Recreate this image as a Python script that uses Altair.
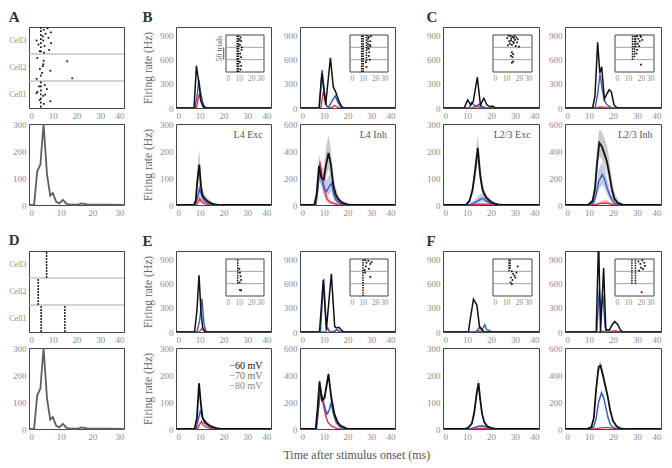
import altair as alt
import pandas as pd

FONT = "Liberation Serif"
LBL = "#8c8c8c"
FRAME = "#444444"
K_COL = "#111111"
B_COL = "#3a5bb5"
R_COL = "#e8334f"
K_BAND = "#a8a8a8"
B_BAND = "#9aa6dc"
R_BAND = "#f29aab"

WA, WB, WC, H = 95, 95, 96, 81

# ---------------- data ----------------
# Panel A / D population histogram (time ms, count)
HIST_T = [0, 1.6, 2.6, 3.6, 4.6, 5.7, 6.7, 7.5, 8.6, 9.6, 10.7, 11.7, 12.7, 14, 15.5, 16.5, 17.5, 18.5, 20, 25, 30]
HIST_V = [0, 0, 125, 150, 300, 112, 35, 44, 12, 6, 19, 6, 1, 1, 1, 6, 4, 1, 1, 1, 0]

# Panel A raster (spike time, row position; Cell1 0-1, Cell2 1-2, Cell3 2-3)
A_SPIKE_T = [5, 5, 5, 5, 5, 5, 5, 6.2, 7.8, 8.2, 9.3, 7, 6, 6.5, 8.5, 3.2, 4, 4.5, 6.3, 9.2, 5.8,
             3.5, 6.2, 5.8, 16.1, 9, 5, 3.2, 18.2, 5.5, 6, 4.6,
             5, 5, 5, 5, 5, 5, 5, 3.6, 3.2, 6.6, 7.5, 6, 9, 4.5, 6.3, 4.2, 6.8]
A_SPIKE_Y = [2.1, 2.25, 2.4, 2.55, 2.7, 2.85, 2.97, 2.9, 2.95, 2.6, 2.4, 2.75, 2.5, 2.3, 2.15, 2.5, 2.35, 2.1, 2.05, 2.8, 2.65,
             1.85, 1.75, 1.55, 1.73, 1.38, 1.2, 1.08, 1.1, 1.3, 1.62, 1.45,
             0.95, 0.8, 0.65, 0.5, 0.35, 0.2, 0.05, 0.6, 0.55, 0.85, 0.7, 0.45, 0.25, 0.3, 0.15, 0.8, 0.5]

# Panel D raster: every trial spikes at the same time -> columns
D_COL_T = [7.4, 3.9, 5.1, 15.1]
D_COL_Y0 = [2, 1, 0, 0]
D_COL_Y1 = [3, 2, 1, 1]

# Example neurons (t, rate) : K = -60 mV, B = -70 mV, R = -80 mV
B1T_K = [(0, 0), (7.6, 0), (8.6, 520), (9.6, 310), (10.5, 90), (11.5, 15), (12.5, 0), (40, 0)]
B1T_B = [(0, 0), (8, 0), (8.8, 130), (9.6, 350), (10.5, 170), (11.5, 45), (12.5, 0), (40, 0)]
B1T_R = [(0, 0), (8.6, 0), (9.8, 175), (10.6, 70), (11.5, 10), (12.2, 0), (40, 0)]

B2T_K = [(0, 0), (8, 0), (9.2, 430), (10.8, 40), (12.8, 620), (14, 260), (15, 200), (16.5, 75), (17.7, 12), (18.5, 0), (40, 0)]
B2T_B = [(0, 0), (8.2, 0), (9.3, 470), (10.3, 200), (11, 30), (12, 10), (13, 60), (14.8, 150), (16, 70), (17.2, 10), (18, 0), (40, 0)]
B2T_R = [(0, 0), (8.8, 0), (9.8, 200), (10.5, 130), (11.3, 20), (12.5, 0), (13.5, 10), (14.6, 30), (15.6, 15), (16.5, 0), (40, 0)]

C1T_K = [(0, 0), (8.8, 0), (10.3, 100), (11.6, 35), (12.6, 80), (14.3, 380), (15.6, 35), (17, 120), (18.3, 40), (19.6, 15), (20.7, 25), (21.8, 0), (40, 0)]
C1T_B = [(0, 0), (10.8, 0), (12, 70), (13.4, 20), (15.2, 48), (16.3, 20), (17.6, 5), (18.5, 0), (40, 0)]
C1T_R = [(0, 0), (12, 0), (13, 12), (14.5, 18), (16, 10), (17.5, 5), (18.5, 0), (40, 0)]

C2T_K = [(0, 0), (11.5, 0), (12.5, 150), (13.6, 810), (14.5, 430), (15.3, 510), (16.4, 110), (17.2, 160), (18.4, 225), (19.3, 200), (20.4, 40), (21.5, 5), (22.5, 0), (40, 0)]
C2T_B = [(0, 0), (12.5, 0), (13.6, 170), (14.6, 420), (15.5, 230), (16.5, 90), (17.5, 40), (18.5, 20), (19.5, 0), (40, 0)]
C2T_R = [(0, 0), (12, 0), (13, 8), (15, 12), (17, 8), (19, 5), (21, 0), (40, 0)]

E1T_K = [(0, 0), (7.8, 0), (8.8, 260), (9.7, 700), (10.5, 260), (11.2, 60), (12.3, 0), (40, 0)]
E1T_B = [(0, 0), (8.8, 0), (10, 150), (10.9, 410), (11.8, 100), (12.5, 20), (13.2, 0), (40, 0)]
E1T_R = [(0, 0), (9.8, 0), (11, 50), (12, 0), (40, 0)]

E2T_K = [(0, 0), (8.2, 0), (9.8, 640), (11.1, 30), (13.2, 718), (14.6, 70), (15.3, 50), (16.4, 57), (17.4, 25), (18.5, 0), (40, 0)]
E2T_B = [(0, 0), (8.6, 0), (10, 657), (11.1, 70), (12, 20), (13, 0), (14.5, 10), (15.3, 28), (16.5, 10), (17.5, 0), (40, 0)]
E2T_R = [(0, 0), (10.6, 0), (11.7, 50), (12.5, 0), (14.5, 0), (15.7, 30), (16.8, 0), (40, 0)]

F1T_K = [(0, 0), (10.6, 0), (11.3, 150), (12.7, 405), (14.1, 333), (15.2, 70), (16.3, 28), (17.2, 0), (40, 0)]
F1T_B = [(0, 0), (13.8, 0), (15.2, 60), (16.2, 25), (17.4, 90), (18.2, 28), (19.3, 20), (20.2, 0), (40, 0)]
F1T_R = [(0, 0), (12.5, 0), (13.5, 8), (15, 12), (16.5, 6), (17.5, 0), (40, 0)]

F2T_K = [(0, 0), (13, 0), (14, 1150), (14.8, 0), (16.1, 790), (17, 30), (18.5, 25), (19.5, 80), (20.7, 130), (22, 90), (23, 28), (24, 0), (40, 0)]
F2T_B = [(0, 0), (13.2, 0), (14.3, 530), (15, 250), (15.8, 460), (16.7, 60), (17.5, 0), (40, 0)]
F2T_R = [(0, 0), (13.5, 0), (15, 8), (17, 10), (19, 8), (21, 15), (22.5, 5), (24, 0), (40, 0)]

# Population averages (t, mean, band low, band high)
B1B_K = [(0, 0, 0, 0), (7.5, 0, 0, 0), (8.3, 15, 5, 30), (9, 90, 50, 140), (9.8, 150, 100, 205), (10.5, 70, 45, 110), (11.2, 35, 22, 55), (12, 25, 15, 40), (13, 16, 10, 28), (14, 10, 5, 20), (15, 5, 2, 12), (16.5, 2, 0, 6), (18, 0, 0, 2), (40, 0, 0, 0)]
B1B_B = [(0, 0, 0, 0), (8, 0, 0, 0), (9, 25, 12, 40), (9.9, 60, 38, 85), (10.6, 42, 28, 60), (11.3, 25, 15, 38), (12, 15, 8, 25), (13, 9, 4, 16), (14, 5, 2, 10), (15.5, 2, 0, 5), (17, 0, 0, 0), (40, 0, 0, 0)]
B1B_R = [(0, 0, 0, 0), (8.5, 0, 0, 0), (9.3, 10, 4, 18), (10, 24, 12, 38), (10.8, 13, 6, 22), (11.6, 7, 3, 12), (12.5, 4, 1, 7), (14, 1, 0, 3), (15, 0, 0, 0), (40, 0, 0, 0)]

B2B_K = [(0, 0, 0, 0), (6, 0, 0, 0), (7, 80, 30, 150), (8, 290, 200, 380), (9, 200, 140, 270), (10, 190, 130, 280), (11, 300, 200, 430), (12, 385, 270, 520), (13, 300, 200, 420), (14, 150, 90, 230), (15, 80, 40, 130), (16, 45, 20, 80), (17, 28, 10, 50), (18, 15, 5, 30), (20, 5, 0, 12), (22, 0, 0, 2), (40, 0, 0, 0)]
B2B_B = [(0, 0, 0, 0), (6.5, 0, 0, 0), (7.5, 120, 60, 200), (8.3, 270, 180, 340), (9.3, 180, 110, 270), (10.3, 120, 70, 200), (11.2, 100, 60, 180), (12.2, 135, 80, 220), (13.3, 160, 100, 250), (14.2, 80, 40, 150), (15.2, 35, 15, 70), (16.5, 15, 5, 35), (18, 5, 0, 12), (19.5, 0, 0, 2), (40, 0, 0, 0)]
B2B_R = [(0, 0, 0, 0), (6.8, 0, 0, 0), (7.6, 150, 80, 230), (8.4, 320, 230, 340), (9.4, 200, 120, 270), (10.3, 110, 60, 170), (11.3, 45, 20, 80), (12.5, 22, 8, 45), (13.5, 15, 5, 30), (14.8, 8, 2, 18), (16, 2, 0, 6), (17.5, 0, 0, 0), (40, 0, 0, 0)]

C1B_K = [(0, 0, 0, 0), (9.5, 0, 0, 0), (11, 15, 8, 25), (12.3, 55, 35, 80), (13.5, 135, 95, 180), (14.5, 212, 160, 262), (15.5, 110, 80, 150), (16.5, 55, 38, 80), (17.9, 28, 18, 42), (19.9, 12, 6, 20), (21.5, 5, 2, 10), (23, 2, 0, 5), (25, 0, 0, 1), (40, 0, 0, 0)]
C1B_B = [(0, 0, 0, 0), (10.5, 0, 0, 0), (12, 4, 1, 10), (13.5, 10, 4, 22), (15, 18, 8, 35), (16.5, 25, 12, 45), (18, 15, 7, 28), (19.5, 7, 3, 14), (21, 3, 0, 7), (23, 0, 0, 2), (40, 0, 0, 0)]
C1B_R = [(0, 0, 0, 0), (11, 0, 0, 0), (13, 2, 0, 5), (15, 3, 0, 7), (17, 3, 0, 6), (19, 2, 0, 4), (21, 1, 0, 2), (23, 0, 0, 0), (40, 0, 0, 0)]

C2B_K = [(0, 0, 0, 0), (9.5, 0, 0, 0), (11.5, 30, 15, 55), (12.5, 120, 70, 190), (13.3, 300, 200, 420), (14.3, 460, 360, 560), (15.3, 435, 340, 545), (16.5, 375, 290, 490), (17.5, 320, 240, 440), (18.5, 225, 160, 340), (19.5, 120, 80, 200), (20.5, 50, 30, 100), (22, 15, 5, 40), (24, 3, 0, 10), (26, 0, 0, 2), (40, 0, 0, 0)]
C2B_B = [(0, 0, 0, 0), (10.5, 0, 0, 0), (12, 20, 8, 45), (13, 80, 40, 140), (14, 170, 110, 260), (15.5, 225, 150, 320), (16.5, 190, 125, 280), (17.5, 130, 80, 200), (18.5, 80, 45, 130), (19.5, 40, 20, 70), (21, 10, 3, 25), (23, 0, 0, 5), (40, 0, 0, 0)]
C2B_R = [(0, 0, 0, 0), (11, 0, 0, 0), (13, 5, 0, 15), (15, 12, 3, 30), (17, 15, 5, 40), (19, 8, 2, 25), (21, 2, 0, 8), (23, 0, 0, 0), (40, 0, 0, 0)]

E1B_K = [(0, 0, 0, 0), (7.8, 0, 0, 0), (8.8, 40, 30, 50), (9.7, 169, 150, 185), (10.5, 90, 80, 100), (11.2, 42, 36, 48), (12, 30, 26, 35), (13, 20, 17, 24), (14, 14, 11, 17), (15, 9, 7, 12), (16, 6, 4, 8), (17, 3, 2, 5), (19, 0, 0, 1), (40, 0, 0, 0)]
E1B_B = [(0, 0, 0, 0), (8.5, 0, 0, 0), (9.5, 40, 32, 48), (10.2, 66, 58, 75), (11, 45, 39, 52), (12, 22, 19, 26), (13, 15, 12, 18), (14, 9, 7, 11), (15, 5, 3, 7), (16, 3, 1, 4), (18, 0, 0, 0), (40, 0, 0, 0)]
E1B_R = [(0, 0, 0, 0), (9, 0, 0, 0), (10, 18, 14, 22), (10.7, 28, 23, 33), (11.5, 15, 12, 18), (12.5, 8, 6, 10), (14, 3, 2, 4), (16, 0, 0, 0), (40, 0, 0, 0)]

E2B_K = [(0, 0, 0, 0), (6.6, 0, 0, 0), (7.4, 150, 120, 180), (8.2, 352, 320, 380), (9.3, 213, 190, 240), (10.3, 230, 205, 255), (12, 407, 375, 440), (13.1, 242, 215, 270), (14.5, 110, 95, 125), (15.9, 48, 40, 56), (17.2, 24, 18, 30), (18.6, 12, 8, 16), (20, 0, 0, 2), (40, 0, 0, 0)]
E2B_B = [(0, 0, 0, 0), (6.8, 0, 0, 0), (7.7, 150, 120, 180), (8.6, 278, 250, 305), (10.3, 170, 150, 195), (11.3, 110, 95, 130), (12.2, 133, 115, 150), (13.1, 194, 165, 290), (14.1, 110, 95, 130), (15.2, 48, 40, 56), (16.5, 20, 15, 25), (18, 0, 0, 3), (40, 0, 0, 0)]
E2B_R = [(0, 0, 0, 0), (7, 0, 0, 0), (7.8, 150, 120, 180), (8.7, 290, 260, 320), (9.7, 194, 170, 215), (10.8, 97, 85, 110), (11.8, 48, 40, 55), (13.1, 24, 18, 30), (14.5, 12, 8, 16), (16, 0, 0, 2), (40, 0, 0, 0)]

F1B_K = [(0, 0, 0, 0), (9, 0, 0, 0), (10.5, 5, 3, 8), (12, 20, 15, 26), (13, 60, 50, 72), (14, 130, 115, 150), (14.8, 170, 150, 192), (15.5, 110, 98, 125), (16.3, 55, 48, 63), (17.2, 25, 20, 30), (18.5, 10, 7, 13), (20, 4, 2, 6), (22, 0, 0, 1), (40, 0, 0, 0)]
F1B_B = [(0, 0, 0, 0), (11, 0, 0, 0), (13, 5, 3, 8), (15, 10, 7, 14), (16.5, 12, 9, 16), (18, 8, 5, 11), (20, 3, 1, 5), (22, 0, 0, 1), (40, 0, 0, 0)]
F1B_R = [(0, 0, 0, 0), (12, 0, 0, 0), (15, 2, 1, 4), (17, 3, 1, 5), (19, 2, 0, 3), (21, 0, 0, 0), (40, 0, 0, 0)]

F2B_K = [(0, 0, 0, 0), (9, 0, 0, 0), (11, 15, 10, 22), (12, 80, 65, 95), (13, 300, 270, 330), (14, 460, 430, 490), (14.8, 470, 440, 505), (15.8, 400, 375, 430), (16.8, 320, 295, 345), (17.8, 240, 220, 260), (18.8, 140, 125, 155), (20, 60, 50, 70), (21.5, 20, 15, 26), (23, 5, 2, 8), (25, 0, 0, 1), (40, 0, 0, 0)]
F2B_B = [(0, 0, 0, 0), (10, 0, 0, 0), (12, 15, 10, 20), (13, 80, 68, 92), (14, 200, 180, 220), (15.2, 267, 245, 290), (16, 240, 220, 262), (17, 160, 145, 175), (18, 80, 70, 90), (19, 30, 24, 36), (20.5, 8, 5, 11), (22, 0, 0, 2), (40, 0, 0, 0)]
F2B_R = [(0, 0, 0, 0), (11, 0, 0, 0), (13, 3, 1, 5), (15, 8, 4, 12), (17, 12, 7, 17), (19, 8, 4, 12), (21, 3, 1, 5), (23, 0, 0, 0), (40, 0, 0, 0)]

# Inset rasters: columns (t, row0, row1) and single spikes (t, row); rows 2-3 = -60 mV
B1_IN_COLS = [(8.8, 0, 3), (9.9, 0, 3)]
B1_IN_DOTS = [(11.5, 2.8), (12, 2.5), (11, 2.2), (12.3, 1.8), (11.2, 1.5), (11.8, 1.2), (11, 0.8), (12, 0.5), (11.5, 0.2), (10.8, 2.6), (12.5, 2.0)]
B2_IN_COLS = [(9.3, 0, 3), (10.4, 0, 3), (13, 0.9, 3), (14.2, 1.8, 3)]
B2_IN_DOTS = [(15, 2.8), (16, 2.5), (15.5, 2.2), (14.8, 1.9), (15.2, 1.6), (16.5, 2.9), (14.8, 1.3), (12.5, 0.8), (13, 0.4), (15.6, 1.0), (16.2, 2.1)]
C1_IN_COLS = []
C1_IN_DOTS = [(12, 2.95), (13.5, 2.9), (15, 2.85), (16.5, 2.92), (18, 2.8), (14, 2.7), (11, 2.75), (17, 2.6), (19, 2.65), (12.5, 2.5), (15.5, 2.45), (13, 2.3), (16, 2.35), (18.5, 2.4), (14.5, 2.2), (17.5, 2.1), (11.5, 2.15), (20, 2.05), (14, 2.55), (16, 2.75), (14.5, 1.6), (15.5, 1.45), (13.8, 1.3), (15, 1.2), (15.5, 0.85), (14.5, 0.75)]
C2_IN_COLS = [(13.5, 1, 3), (15, 1.2, 3), (16, 2, 3)]
C2_IN_DOTS = [(17, 2.9), (18, 2.7), (19, 2.5), (17.5, 2.3), (20, 2.85), (21, 2.6), (18.5, 2.1), (19.5, 2.95), (17, 1.8), (16.5, 1.5), (20, 0.6)]
E1_IN_COLS = [(9.3, 1, 3)]
E1_IN_DOTS = [(11, 1.9), (11.5, 1.6), (12, 1.3), (10.5, 2.2), (11, 0.5), (12, 0.45), (10.8, 1.1)]
E2_IN_COLS = [(10.3, 0, 3)]
E2_IN_DOTS = [(12, 2.9), (13, 2.7), (14.5, 2.85), (16, 2.6), (17, 2.75), (12.5, 2.4), (15, 2.2), (11.5, 2.1), (16, 1.55), (12, 1.9)]
F1_IN_COLS = [(12.3, 2, 3), (13.2, 2.2, 3)]
F1_IN_DOTS = [(14.5, 2.0), (15.5, 1.8), (16.5, 1.65), (18, 1.9), (17.2, 1.5), (15, 1.3), (13.5, 1.1), (14.5, 0.95), (13.8, 1.5), (19, 2.4)]
F2_IN_COLS = [(13, 1, 3), (15.7, 1, 3)]
F2_IN_DOTS = [(18, 2.8), (19.5, 2.6), (21, 2.9), (22.5, 2.7), (20, 2.3), (23, 2.45), (18.5, 2.05), (21.5, 2.2), (20.5, 0.3)]

LEG_LABELS = ["\u221260 mV", "\u221270 mV", "\u221280 mV"]
LEG_Y = [232, 196, 160]
LEG_X = [22.5, 22.5, 22.5]
LEG_COLORS = ["#111111", "#6e6e6e", "#8a8a8a"]

X_TICKS = [0, 10, 20, 30, 40]
TOP_TICKS = [0, 300, 600, 900]


def letter_title(txt):
    return alt.TitleParams(txt, anchor="start", font=FONT, fontSize=15, fontWeight="bold",
                           color="#333333", offset=2)


def inset_layer(cols, dots, w, h, scalebar=False):
    x0, x1 = round(0.525 * w), round(0.93 * w)
    y0, y1 = round(0.1 * h), round(0.555 * h)
    xs = alt.Scale(domain=[0, 30], range=[x0, x1], nice=False, zero=False)
    ys = alt.Scale(domain=[0, 3], range=[y1, y0], nice=False, zero=False)
    xax = alt.Axis(values=[0, 10, 20, 30], orient="bottom", offset=y1 - h, title=None,
                   labelFontSize=7.5, labelPadding=2, labelOverlap=False)
    fdf = pd.DataFrame({"a": [0], "b": [30], "c": [0], "d": [3]})
    layers = [alt.Chart(fdf).mark_rect(fill="white", stroke=FRAME, strokeWidth=1).encode(
        x=alt.X("a:Q", scale=xs, axis=xax), x2="b:Q",
        y=alt.Y("c:Q", scale=ys, axis=None), y2="d:Q")]
    sdf = pd.DataFrame({"a": [0, 0], "b": [30, 30], "y": [1, 2]})
    layers.append(alt.Chart(sdf).mark_rule(color="#a0a0a0", strokeWidth=1).encode(
        x=alt.X("a:Q", scale=xs, axis=xax), x2="b:Q", y=alt.Y("y:Q", scale=ys, axis=None)))
    if cols:
        cdf = pd.DataFrame(cols, columns=["t", "y0", "y1"])
        layers.append(alt.Chart(cdf).mark_rule(color="#111111", strokeWidth=1.5, strokeDash=[1.5, 1]).encode(
            x=alt.X("t:Q", scale=xs, axis=xax), y=alt.Y("y0:Q", scale=ys, axis=None), y2="y1:Q"))
    ddf = pd.DataFrame(dots, columns=["t", "y"])
    layers.append(alt.Chart(ddf).mark_square(size=3, color="#111111", opacity=1).encode(
        x=alt.X("t:Q", scale=xs, axis=xax), y=alt.Y("y:Q", scale=ys, axis=None)))
    if scalebar:
        bdf = pd.DataFrame({"t": [-1.8], "y0": [1], "y1": [2]})
        layers.append(alt.Chart(bdf).mark_rule(color="#555555", strokeWidth=1).encode(
            x=alt.X("t:Q", scale=xs, axis=xax), y=alt.Y("y0:Q", scale=ys, axis=None), y2="y1:Q"))
        tdf = pd.DataFrame({"t": [-4.6], "y": [1.9], "s": ["50 trials"]})
        layers.append(alt.Chart(tdf).mark_text(font=FONT, fontSize=8, color="#666666", angle=270,
                                               align="center", baseline="middle").encode(
            x=alt.X("t:Q", scale=xs, axis=xax), y=alt.Y("y:Q", scale=ys, axis=None), text="s:N"))
    return alt.layer(*layers)


def rate_panel(series, ymax, yticks, w, h, ytitle=None, label=None, inset=None,
               banded=False, legend=False, letter=None):
    k, b, r = series
    xs = alt.Scale(domain=[0, 40], nice=False, zero=False)
    ys = alt.Scale(domain=[0, ymax], nice=False)
    xax = alt.Axis(values=X_TICKS, title=None)
    if ytitle:
        yax = alt.Axis(values=yticks, title=ytitle, titlePadding=6)
    else:
        yax = alt.Axis(values=yticks, title=None)
    layers = []
    if banded:
        for data, col, op in ((k, K_BAND, 0.6), (b, B_BAND, 0.6), (r, R_BAND, 0.6)):
            df = pd.DataFrame(data, columns=["t", "v", "lo", "hi"])
            layers.append(alt.Chart(df).mark_area(color=col, opacity=op, clip=True).encode(
                x=alt.X("t:Q", scale=xs, axis=xax),
                y=alt.Y("lo:Q", scale=ys, axis=yax), y2="hi:Q"))
    lw = 1.8 if banded else 1.5
    for data, col, sw in ((r, R_COL, 1.4), (b, B_COL, 1.4), (k, K_COL, lw)):
        df = pd.DataFrame([row[:2] for row in data], columns=["t", "v"])
        layers.append(alt.Chart(df).mark_line(color=col, strokeWidth=sw, clip=True).encode(
            x=alt.X("t:Q", scale=xs, axis=xax), y=alt.Y("v:Q", scale=ys, axis=yax)))
    if label:
        ldf = pd.DataFrame({"t": [36.5], "v": [ymax * 0.86], "s": [label]})
        layers.append(alt.Chart(ldf).mark_text(font=FONT, fontSize=10, color="#555555",
                                               align="right", baseline="middle").encode(
            x=alt.X("t:Q", scale=xs, axis=xax), y=alt.Y("v:Q", scale=ys, axis=yax), text="s:N"))
    if legend:
        gdf = pd.DataFrame({"t": LEG_X, "v": LEG_Y, "s": LEG_LABELS})
        layers.append(alt.Chart(gdf).mark_text(font=FONT, fontSize=10, align="left",
                                               baseline="middle").encode(
            x=alt.X("t:Q", scale=xs, axis=xax), y=alt.Y("v:Q", scale=ys, axis=yax), text="s:N",
            color=alt.Color("s:N", scale=alt.Scale(domain=LEG_LABELS, range=LEG_COLORS), legend=None)))
    main = alt.layer(*layers)
    if inset:
        cols, dots, bar = inset
        ch = alt.layer(main, inset_layer(cols, dots, w, h, bar)).resolve_scale(
            x="independent", y="independent")
    else:
        ch = main
    ch = ch.properties(width=w, height=h)
    if letter:
        ch = ch.properties(title=letter_title(letter))
    return ch


def cell_axis():
    return alt.Axis(values=[0.5, 1.5, 2.5], title=None, labelFontSize=8,
                    labelExpr="datum.value < 1 ? 'Cell1' : (datum.value < 2 ? 'Cell2' : 'Cell3')")


def raster_A(letter):
    xs = alt.Scale(domain=[0, 40], nice=False)
    ys = alt.Scale(domain=[0, 3], nice=False)
    sep = alt.Chart(pd.DataFrame({"y": [1, 2]})).mark_rule(color="#a8a8a8", strokeWidth=1.2).encode(
        y=alt.Y("y:Q", scale=ys, axis=cell_axis()))
    pts = alt.Chart(pd.DataFrame({"t": A_SPIKE_T, "y": A_SPIKE_Y})).mark_square(size=3, color="#111111", opacity=1).encode(
        x=alt.X("t:Q", scale=xs, axis=alt.Axis(values=X_TICKS, title=None)),
        y=alt.Y("y:Q", scale=ys, axis=cell_axis()))
    return alt.layer(sep, pts).properties(width=WA, height=H, title=letter_title(letter))


def raster_D(letter):
    xs = alt.Scale(domain=[0, 40], nice=False)
    ys = alt.Scale(domain=[0, 3], nice=False)
    sep = alt.Chart(pd.DataFrame({"y": [1, 2]})).mark_rule(color="#a8a8a8", strokeWidth=1.2).encode(
        y=alt.Y("y:Q", scale=ys, axis=cell_axis()))
    cols = alt.Chart(pd.DataFrame({"t": D_COL_T, "y0": D_COL_Y0, "y1": D_COL_Y1})).mark_rule(
        color="#111111", strokeWidth=1.4, strokeDash=[2, 1]).encode(
        x=alt.X("t:Q", scale=xs, axis=alt.Axis(values=X_TICKS, title=None)),
        y=alt.Y("y0:Q", scale=ys, axis=cell_axis()), y2="y1:Q")
    return alt.layer(sep, cols).properties(width=WA, height=H, title=letter_title(letter))


def hist_panel():
    return alt.Chart(pd.DataFrame({"t": HIST_T, "v": HIST_V})).mark_line(
        color="#5e5e5e", strokeWidth=1.8).encode(
        x=alt.X("t:Q", scale=alt.Scale(domain=[0, 30], nice=False),
                axis=alt.Axis(values=[0, 10, 20, 30], title=None)),
        y=alt.Y("v:Q", scale=alt.Scale(domain=[0, 300], nice=False),
                axis=alt.Axis(values=[0, 100, 200, 300], title=None))
    ).properties(width=WA, height=H)


def spacer(w, h):
    return alt.Chart(pd.DataFrame({"a": [0]})).mark_point(opacity=0).encode(
        x=alt.X("a:Q", axis=None), y=alt.Y("a:Q", axis=None)
    ).properties(width=w, height=h, view=alt.ViewBackground(stroke="transparent"))


GAPS = [52, 29, 48, 26]


def grid_row(panels, gap_w=1, row_h=1):
    out = []
    for i, p in enumerate(panels):
        out.append(p)
        if i < len(GAPS):
            out.append(spacer(gap_w if gap_w != "gap" else GAPS[i], row_h))
    return out


FR = "Firing rate (Hz)"

row1 = [raster_A("A"),
        rate_panel((B1T_K, B1T_B, B1T_R), 1000, TOP_TICKS, WB, H, ytitle=FR,
                   inset=(B1_IN_COLS, B1_IN_DOTS, True), letter="B"),
        rate_panel((B2T_K, B2T_B, B2T_R), 1000, TOP_TICKS, WB, H,
                   inset=(B2_IN_COLS, B2_IN_DOTS, False)),
        rate_panel((C1T_K, C1T_B, C1T_R), 1000, TOP_TICKS, WC, H,
                   inset=(C1_IN_COLS, C1_IN_DOTS, False), letter="C"),
        rate_panel((C2T_K, C2T_B, C2T_R), 1000, TOP_TICKS, WC, H,
                   inset=(C2_IN_COLS, C2_IN_DOTS, False))]
row2 = [hist_panel(),
        rate_panel((B1B_K, B1B_B, B1B_R), 300, [0, 100, 200, 300], WB, H, ytitle=FR,
                   label="L4 Exc", banded=True),
        rate_panel((B2B_K, B2B_B, B2B_R), 600, [0, 200, 400, 600], WB, H,
                   label="L4 Inh", banded=True),
        rate_panel((C1B_K, C1B_B, C1B_R), 300, [0, 100, 200, 300], WC, H,
                   label="L2/3 Exc", banded=True),
        rate_panel((C2B_K, C2B_B, C2B_R), 600, [0, 200, 400, 600], WC, H,
                   label="L2/3 Inh", banded=True)]
row3 = [spacer(1, 14)] + [spacer(1, 1) for _ in range(4)]
row4 = [raster_D("D"),
        rate_panel((E1T_K, E1T_B, E1T_R), 1000, TOP_TICKS, WB, H, ytitle=FR,
                   inset=(E1_IN_COLS, E1_IN_DOTS, False), letter="E"),
        rate_panel((E2T_K, E2T_B, E2T_R), 1000, TOP_TICKS, WB, H,
                   inset=(E2_IN_COLS, E2_IN_DOTS, False)),
        rate_panel((F1T_K, F1T_B, F1T_R), 1000, TOP_TICKS, WC, H,
                   inset=(F1_IN_COLS, F1_IN_DOTS, False), letter="F"),
        rate_panel((F2T_K, F2T_B, F2T_R), 1000, TOP_TICKS, WC, H,
                   inset=(F2_IN_COLS, F2_IN_DOTS, False))]
row5 = [hist_panel(),
        rate_panel((E1B_K, E1B_B, E1B_R), 300, [0, 100, 200, 300], WB, H, ytitle=FR,
                   banded=True, legend=True),
        rate_panel((E2B_K, E2B_B, E2B_R), 600, [0, 200, 400, 600], WB, H, banded=True),
        rate_panel((F1B_K, F1B_B, F1B_R), 300, [0, 100, 200, 300], WC, H, banded=True),
        rate_panel((F2B_K, F2B_B, F2B_R), 600, [0, 200, 400, 600], WC, H, banded=True)]

cells = (grid_row(row1, gap_w="gap") + grid_row(row2) + grid_row(row3) +
         grid_row(row4) + grid_row(row5))

chart = alt.concat(*cells, columns=9, spacing={"row": 16, "column": 0}, bounds="flush").properties(
    title=alt.TitleParams("Time after stimulus onset (ms)", orient="bottom", anchor="middle",
                          font=FONT, fontSize=12, fontWeight="normal", color="#555555",
                          offset=8, dx=22),
    padding={"left": 0, "right": 2, "top": 1, "bottom": 1},
).configure_view(stroke=FRAME, strokeWidth=1).configure_axis(
    labelFont=FONT, labelFontSize=9, labelColor=LBL, titleFont=FONT, titleFontSize=11.5,
    titleColor="#666666", titleFontWeight="normal", ticks=False, domain=False, grid=False,
    labelPadding=3)

chart.save("out.html", embed_options={"renderer": "svg", "actions": False})
